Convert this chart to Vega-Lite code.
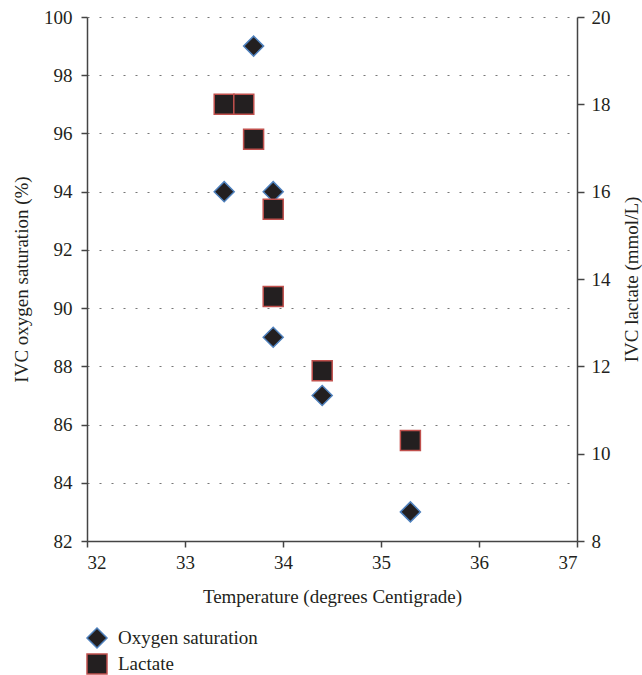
{
  "$schema": "https://vega.github.io/schema/vega-lite/v6.json",
  "autosize": {"type": "none"},
  "padding": {"left": 87, "top": 17, "right": 65, "bottom": 134},
  "width": 490,
  "height": 524,
  "background": "white",
  "config": {
    "font": "Liberation Serif",
    "view": {"stroke": null},
    "axis": {
      "labelFont": "Liberation Serif",
      "titleFont": "Liberation Serif",
      "labelFontSize": 19,
      "titleFontSize": 19,
      "titleFontWeight": "normal",
      "labelColor": "#231f20",
      "titleColor": "#231f20",
      "domainColor": "#444444",
      "domainWidth": 1.5,
      "tickColor": "#444444",
      "tickWidth": 1.5,
      "tickSize": 6
    },
    "legend": {
      "labelFont": "Liberation Serif",
      "labelFontSize": 19,
      "labelColor": "#231f20"
    }
  },
  "data": {
    "values": [
      {"temp": 33.7, "value": 99, "series": "Oxygen saturation"},
      {"temp": 33.4, "value": 94, "series": "Oxygen saturation"},
      {"temp": 33.9, "value": 94, "series": "Oxygen saturation"},
      {"temp": 33.9, "value": 89, "series": "Oxygen saturation"},
      {"temp": 34.4, "value": 87, "series": "Oxygen saturation"},
      {"temp": 35.3, "value": 83, "series": "Oxygen saturation"},
      {"temp": 33.4, "value": 18.0, "series": "Lactate"},
      {"temp": 33.6, "value": 18.0, "series": "Lactate"},
      {"temp": 33.7, "value": 17.2, "series": "Lactate"},
      {"temp": 33.9, "value": 15.6, "series": "Lactate"},
      {"temp": 33.9, "value": 13.6, "series": "Lactate"},
      {"temp": 34.4, "value": 11.9, "series": "Lactate"},
      {"temp": 35.3, "value": 10.3, "series": "Lactate"}
    ]
  },
  "encoding": {
    "x": {
      "field": "temp",
      "type": "quantitative",
      "scale": {"domain": [32, 37], "nice": false, "zero": false},
      "axis": {
        "title": "Temperature (degrees Centigrade)",
        "values": [32, 33, 34, 35, 36, 37],
        "grid": false,
        "labelPadding": 6,
        "titlePadding": 15,
        "format": "d"
      }
    }
  },
  "layer": [
    {
      "transform": [{"filter": "datum.series === 'Oxygen saturation'"}],
      "mark": {"type": "point", "filled": false, "fill": "#231f20", "strokeWidth": 1.5, "size": 400, "opacity": 1},
      "encoding": {
        "y": {
          "field": "value",
          "type": "quantitative",
          "scale": {"domain": [82, 100], "nice": false, "zero": false},
          "axis": {
            "title": "IVC oxygen saturation (%)",
            "orient": "left",
            "values": [82, 84, 86, 88, 90, 92, 94, 96, 98, 100],
            "grid": true,
            "gridDash": [2, 10],
            "gridColor": "#777777",
            "gridWidth": 1.2,
            "labelPadding": 9,
            "titlePadding": 12
          }
        },
        "shape": {
          "field": "series",
          "type": "nominal",
          "scale": {"domain": ["Oxygen saturation", "Lactate"], "range": ["diamond", "square"]},
          "legend": {
            "title": null,
            "orient": "none",
            "legendX": -1,
            "legendY": 610,
            "symbolSize": 400,
            "symbolFillColor": "#231f20",
            "symbolStrokeWidth": 1.5,
            "rowPadding": 0,
            "labelOffset": 10
          }
        },
        "stroke": {
          "field": "series",
          "type": "nominal",
          "scale": {"domain": ["Oxygen saturation", "Lactate"], "range": ["#4f81bd", "#c0504d"]},
          "legend": {
            "title": null,
            "orient": "none",
            "legendX": -1,
            "legendY": 610,
            "symbolSize": 400,
            "symbolFillColor": "#231f20",
            "symbolStrokeWidth": 1.5,
            "rowPadding": 0,
            "labelOffset": 10
          }
        }
      }
    },
    {
      "transform": [{"filter": "datum.series === 'Lactate'"}],
      "mark": {"type": "point", "filled": false, "fill": "#231f20", "strokeWidth": 1.5, "size": 400, "opacity": 1},
      "encoding": {
        "y": {
          "field": "value",
          "type": "quantitative",
          "scale": {"domain": [8, 20], "nice": false, "zero": false},
          "axis": {
            "title": "IVC lactate (mmol/L)",
            "orient": "right",
            "values": [8, 10, 12, 14, 16, 18, 20],
            "grid": false,
            "tickSize": 7,
            "labelPadding": 7,
            "titleAngle": 270,
            "titleBaseline": "top",
            "titlePadding": 12
          }
        },
        "shape": {"field": "series", "type": "nominal"},
        "stroke": {"field": "series", "type": "nominal"}
      }
    }
  ],
  "resolve": {"scale": {"y": "independent"}}
}
